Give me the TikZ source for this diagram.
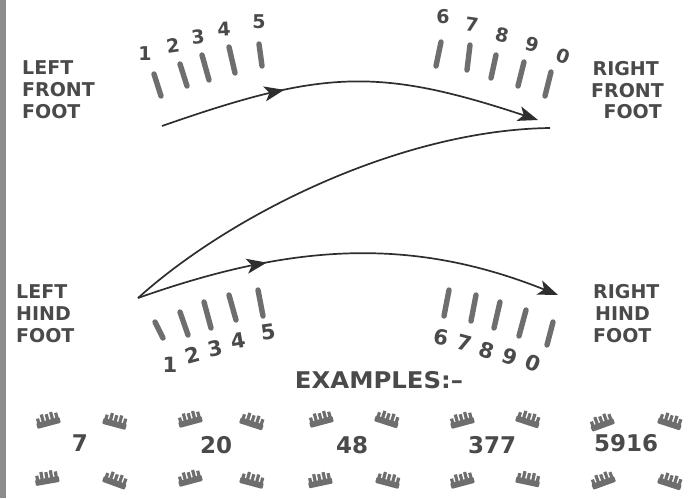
\documentclass[tikz,border=0pt]{standalone}
\usepackage{fontspec}
\setmainfont{DejaVu Sans}
\usetikzlibrary{arrows.meta,decorations.markings}
\definecolor{ink}{HTML}{2E2E2E}
\definecolor{txt}{HTML}{4A4A4A}
\definecolor{barc}{HTML}{6E6E6E}
\definecolor{edge}{HTML}{8C8C8C}
\tikzset{
  lbl/.style={inner sep=0pt, text=txt, font=\fontsize{19}{22}\selectfont\bfseries},
  dig/.style={inner sep=0pt, text=txt, font=\fontsize{19}{22}\selectfont\bfseries},
  hdig/.style={inner sep=0pt, text=txt, font=\fontsize{21}{24}\selectfont\bfseries},
  exnum/.style={inner sep=0pt, text=txt, font=\fontsize{23}{26}\selectfont\bfseries},
  tbar/.style={draw=barc, line width=5.4pt, line cap=round},
  flow/.style={draw=ink, line width=1.7pt},
  headtip/.style={-{Stealth[length=20pt,width=15pt,inset=5pt]}},
  midtip/.style={postaction={decorate}, decoration={markings,
     mark=at position #1 with {\arrow{Stealth[length=20pt,width=15pt,inset=5pt]}}}},
  comb/.pic={
    \fill[barc, rounded corners=1pt] (-12,-1) rectangle (12,5);
    \foreach \i/\h in {-9.5/4,-4.8/7,0/6,4.8/7,9.5/5}
      \fill[barc] (\i-1.6,-0.5) rectangle (\i+1.6,-1-\h);
  }
}
\begin{document}
\begin{tikzpicture}[x=1pt,y=-1pt]
\useasboundingbox (0,0) rectangle (695,498);
\fill[white] (0,0) rectangle (695,498);
\fill[edge] (0,0) rectangle (6,498);

% ---- labels ----
\node[lbl, anchor=base west] (lf1) at (22,74) {LEFT};
\node[lbl, anchor=base west] (lf2) at (22,96) {FRONT};
\node[lbl, anchor=base west] (lf3) at (22,118) {FOOT};
\node[lbl, anchor=base east] (rf1) at (659,75) {RIGHT};
\node[lbl, anchor=base east] (rf2) at (664,97) {FRONT};
\node[lbl, anchor=base east] (rf3) at (662,118) {FOOT};
\node[lbl, anchor=base west] (lh1) at (16,298) {LEFT};
\node[lbl, anchor=base west] (lh2) at (16,320) {HIND};
\node[lbl, anchor=base west] (lh3) at (16,342) {FOOT};
\node[lbl, anchor=base west] (rh1) at (593,298) {RIGHT};
\node[lbl, anchor=base west] (rh2) at (595,320) {HIND};
\node[lbl, anchor=base west] (rh3) at (593,342) {FOOT};

% ---- front left bars and digits ----
\draw[tbar] (154,74) -- (161,96);
\draw[tbar] (180,64) -- (187,86);
\draw[tbar] (202,55) -- (209,80);
\draw[tbar] (229,47) -- (235,73);
\draw[tbar] (259,44) -- (262,66);
\node[dig] (fd1) at (145,54) {1};
\node[dig, rotate=8] (fd2) at (173,46) {2};
\node[dig, rotate=6] (fd3) at (198,37) {3};
\node[dig, rotate=4] (fd4) at (224,29) {4};
\node[dig] (fd5) at (259,22) {5};

% ---- front right bars and digits ----
\draw[tbar] (441,42) -- (436,66);
\draw[tbar] (470,45) -- (467,70);
\draw[tbar] (496,55) -- (491,78);
\draw[tbar] (524,62) -- (518,86);
\draw[tbar] (551,72) -- (545,96);
\node[dig] (fd6) at (443,17) {6};
\node[dig, rotate=-8] (fd7) at (472,25) {7};
\node[dig, rotate=-12] (fd8) at (502,35) {8};
\node[dig, rotate=-15] (fd9) at (532,45) {9};
\node[dig, rotate=-20] (fd0) at (563,56) {0};

% ---- hind left bars and digits ----
\draw[tbar] (155,322) -- (163,338);
\draw[tbar] (180,312) -- (188,335);
\draw[tbar] (204,302) -- (211,328);
\draw[tbar] (229,295) -- (236,320);
\draw[tbar] (258,290) -- (263,316);
\node[hdig] (hd1) at (170,365) {1};
\node[hdig, rotate=15] (hd2) at (193,355) {2};
\node[hdig, rotate=12] (hd3) at (215,348) {3};
\node[hdig, rotate=10] (hd4) at (238,341) {4};
\node[hdig, rotate=8] (hd5) at (268,332) {5};

% ---- hind right bars and digits ----
\draw[tbar] (449,290) -- (444,316);
\draw[tbar] (476,295) -- (471,321);
\draw[tbar] (500,302) -- (494,328);
\draw[tbar] (526,310) -- (519,336);
\draw[tbar] (553,322) -- (547,345);
\node[hdig, rotate=-10] (hd6) at (441,337) {6};
\node[hdig, rotate=-15] (hd7) at (465,343) {7};
\node[hdig, rotate=-18] (hd8) at (487,350) {8};
\node[hdig, rotate=-20] (hd9) at (510,357) {9};
\node[hdig, rotate=-22] (hd0) at (533,363) {0};

% ---- flow points ----
\coordinate (lfp) at (162,126);
\coordinate (rfp) at (538,120);
\coordinate (rfx) at (550,128);
\coordinate (lhp) at (138,298);
\coordinate (rhp) at (558,295);

\draw[flow, headtip, midtip=0.33] (lfp) .. controls (322,70) and (378,67) .. (rfp);
\draw[flow] (lhp) .. controls (230,215) and (400,130) .. (rfx);
\draw[flow, headtip, midtip=0.31] (lhp) .. controls (288,245) and (408,235) .. (rhp);

% ---- examples ----
\node[inner sep=0pt, text=txt, font=\fontsize{23}{26}\selectfont\bfseries] (ex) at (379,380) {\scalebox{1.06}[1]{EXAMPLES:–}};

\node[exnum] (e1) at (80,443) {7};
\pic[rotate=15] at (48,421) {comb};
\pic[rotate=-15] at (115,422) {comb};
\pic[rotate=10] at (47,479) {comb};
\pic[rotate=-20] at (115,481) {comb};

\node[exnum] (e2) at (216,445) {20};
\pic[rotate=15] at (190,420) {comb};
\pic[rotate=-18] at (252,422) {comb};
\pic[rotate=15] at (190,479) {comb};
\pic[rotate=-15] at (252,481) {comb};

\node[exnum] (e3) at (352,445) {48};
\pic[rotate=15] at (321,420) {comb};
\pic[rotate=-18] at (387,420) {comb};
\pic[rotate=12] at (320,481) {comb};
\pic[rotate=-15] at (388,481) {comb};

\node[exnum] (e4) at (492,445) {377};
\pic[rotate=15] at (462,421) {comb};
\pic[rotate=-18] at (528,420) {comb};
\pic[rotate=15] at (462,481) {comb};
\pic[rotate=-12] at (528,480) {comb};

\node[exnum] (e5) at (626,443) {5916};
\pic[rotate=20] at (602,423) {comb};
\pic[rotate=-18] at (670,422) {comb};
\pic[rotate=20] at (603,481) {comb};
\pic[rotate=-18] at (670,482) {comb};
\end{tikzpicture}
\end{document}
